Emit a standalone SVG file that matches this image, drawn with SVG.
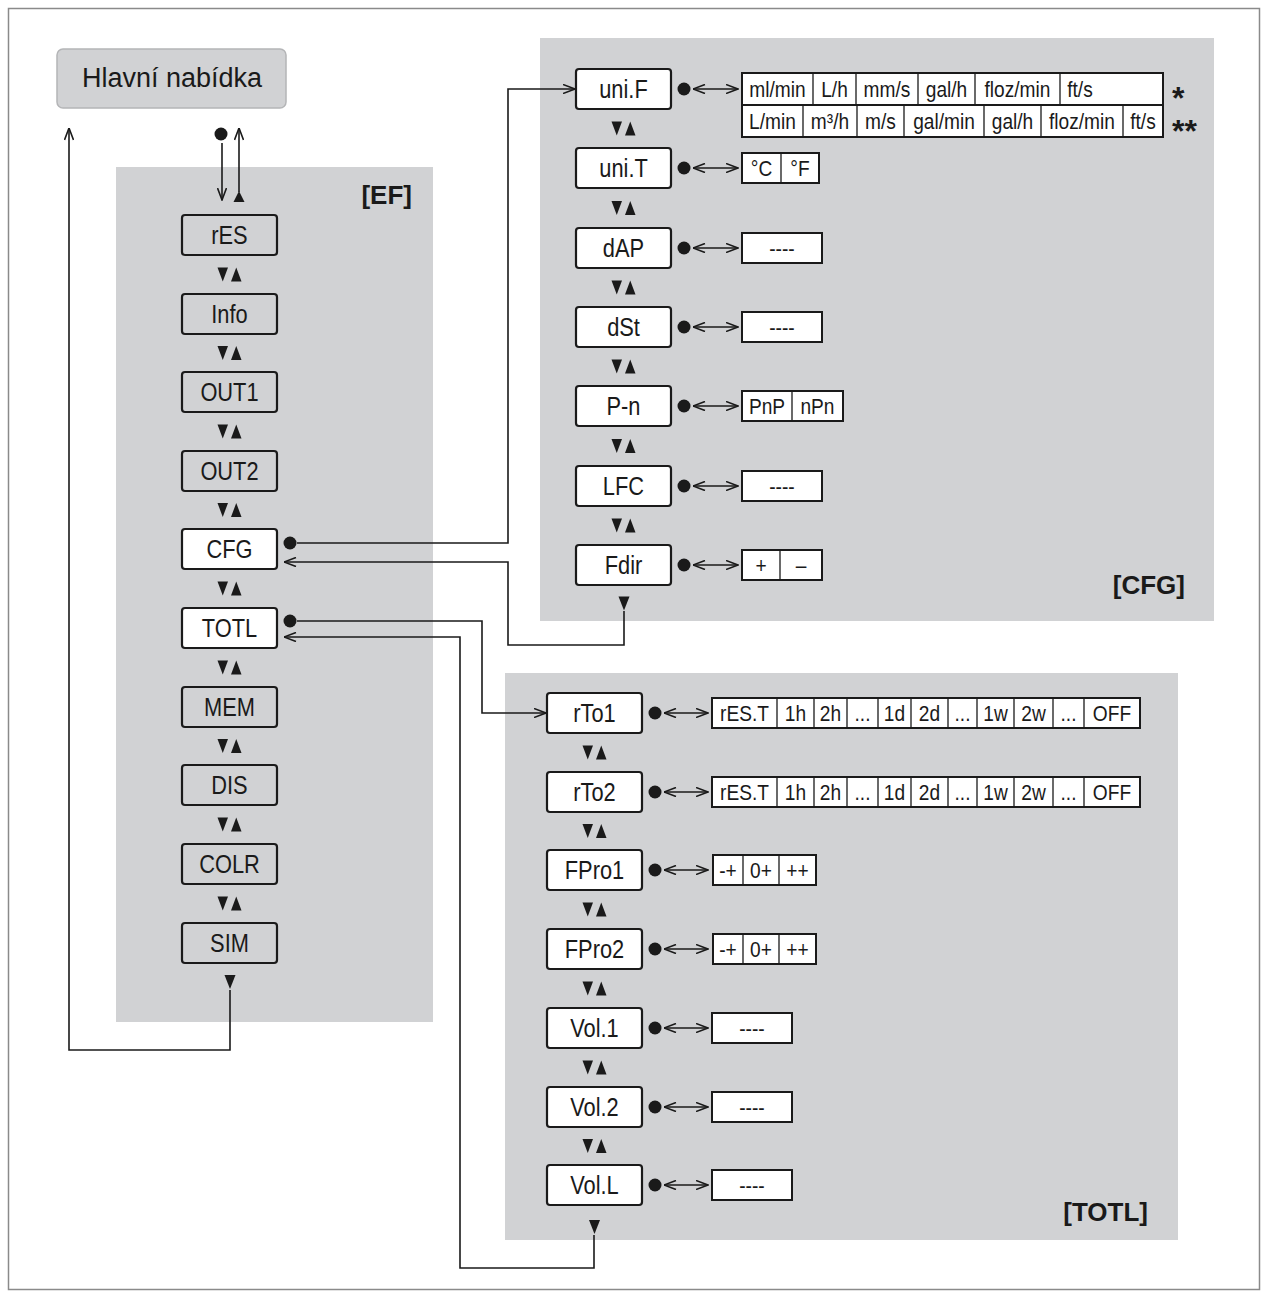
<svg xmlns="http://www.w3.org/2000/svg" xmlns:xlink="http://www.w3.org/1999/xlink" width="1268" height="1298" viewBox="0 0 1268 1298">
<style>
.pnl{fill:#d1d2d4}
.nd rect{fill:#d1d2d4;stroke:#1a1a1a;stroke-width:2.2}
.nd.w rect{fill:#fff}
.nt{font-family:"Liberation Sans",Arial,sans-serif;font-size:26px;text-anchor:middle;fill:#1a1a1a;transform-box:fill-box;transform-origin:center;transform:scaleX(0.84)}
.tb rect{fill:#fff;stroke:#1a1a1a;stroke-width:2}
.tb line{stroke:#1a1a1a;stroke-width:1.3}
.tt{font-family:"Liberation Sans",Arial,sans-serif;font-size:22px;text-anchor:middle;fill:#1a1a1a;transform-box:fill-box;transform-origin:center;transform:scaleX(0.87)}
.lb{font-family:"Liberation Sans",Arial,sans-serif;font-size:26px;font-weight:bold;text-anchor:end;fill:#1a1a1a}
.ast{font-family:"Liberation Sans",Arial,sans-serif;font-size:32px;font-weight:bold;fill:#1a1a1a}
.cn path,.cn line{fill:none;stroke:#1a1a1a;stroke-width:1.6}
.dr{stroke:#1a1a1a;stroke-width:1.6;marker-start:url(#oa);marker-end:url(#oa)}
.tri{fill:#1a1a1a}
</style>
<defs>
<marker id="oa" viewBox="0 0 13 10" refX="12.5" refY="5" markerWidth="13" markerHeight="10" markerUnits="userSpaceOnUse" orient="auto-start-reverse">
<path d="M0.5,0.5 L12.5,5 L0.5,9.5" fill="none" stroke="#1a1a1a" stroke-width="1.6"/>
</marker>
<g id="da" class="tri"><polygon points="-12,-7 -1.5,-7 -6.75,7"/><polygon points="1.5,7 12,7 6.75,-7"/></g>
<polygon id="dn" class="tri" points="-5.5,-7 5.5,-7 0,7"/>
</defs>
<rect x="0" y="0" width="1268" height="1298" fill="#fff"/>
<rect x="8.5" y="8.5" width="1251" height="1281" fill="none" stroke="#8a8a8a" stroke-width="1.5"/>

<!-- panels -->
<rect class="pnl" x="116" y="167" width="317" height="855"/>
<rect class="pnl" x="540" y="38" width="674" height="583"/>
<rect class="pnl" x="505" y="673" width="673" height="567"/>

<text class="lb" x="412" y="204">[EF]</text>
<text class="lb" x="1185" y="594">[CFG]</text>
<text class="lb" x="1148" y="1221">[TOTL]</text>

<!-- main menu -->
<g id="hlavni">
<rect x="57" y="49" width="229" height="59" rx="6" fill="#d1d2d4" stroke="#b4b5b7" stroke-width="1.5"/>
<text x="172" y="87" font-family="'Liberation Sans',Arial,sans-serif" font-size="27" text-anchor="middle" fill="#1a1a1a">Hlavní nabídka</text>
</g>

<!-- EF nodes -->
<g id="n-rES" class="nd"><rect x="182" y="215" width="95" height="40" rx="3"/><text class="nt" x="229.5" y="244">rES</text></g>
<g id="n-Info" class="nd"><rect x="182" y="294" width="95" height="40" rx="3"/><text class="nt" x="229.5" y="323">Info</text></g>
<g id="n-OUT1" class="nd"><rect x="182" y="372" width="95" height="40" rx="3"/><text class="nt" x="229.5" y="401">OUT1</text></g>
<g id="n-OUT2" class="nd"><rect x="182" y="451" width="95" height="40" rx="3"/><text class="nt" x="229.5" y="480">OUT2</text></g>
<g id="n-CFG" class="nd w"><rect x="182" y="529" width="95" height="40" rx="3"/><text class="nt" x="229.5" y="558">CFG</text></g>
<g id="n-TOTL" class="nd w"><rect x="182" y="608" width="95" height="40" rx="3"/><text class="nt" x="229.5" y="637">TOTL</text></g>
<g id="n-MEM" class="nd"><rect x="182" y="687" width="95" height="40" rx="3"/><text class="nt" x="229.5" y="716">MEM</text></g>
<g id="n-DIS" class="nd"><rect x="182" y="765" width="95" height="40" rx="3"/><text class="nt" x="229.5" y="794">DIS</text></g>
<g id="n-COLR" class="nd"><rect x="182" y="844" width="95" height="40" rx="3"/><text class="nt" x="229.5" y="873">COLR</text></g>
<g id="n-SIM" class="nd"><rect x="182" y="923" width="95" height="40" rx="3"/><text class="nt" x="229.5" y="952">SIM</text></g>

<!-- CFG nodes -->
<g id="n-uniF" class="nd w"><rect x="576" y="69" width="95" height="40" rx="3"/><text class="nt" x="623.5" y="98">uni.F</text></g>
<g id="n-uniT" class="nd w"><rect x="576" y="148" width="95" height="40" rx="3"/><text class="nt" x="623.5" y="177">uni.T</text></g>
<g id="n-dAP" class="nd w"><rect x="576" y="228" width="95" height="40" rx="3"/><text class="nt" x="623.5" y="257">dAP</text></g>
<g id="n-dSt" class="nd w"><rect x="576" y="307" width="95" height="40" rx="3"/><text class="nt" x="623.5" y="336">dSt</text></g>
<g id="n-Pn" class="nd w"><rect x="576" y="386" width="95" height="40" rx="3"/><text class="nt" x="623.5" y="415">P-n</text></g>
<g id="n-LFC" class="nd w"><rect x="576" y="466" width="95" height="40" rx="3"/><text class="nt" x="623.5" y="495">LFC</text></g>
<g id="n-Fdir" class="nd w"><rect x="576" y="545" width="95" height="40" rx="3"/><text class="nt" x="623.5" y="574">Fdir</text></g>

<!-- TOTL nodes -->
<g id="n-rTo1" class="nd w"><rect x="547" y="693" width="95" height="40" rx="3"/><text class="nt" x="594.5" y="722">rTo1</text></g>
<g id="n-rTo2" class="nd w"><rect x="547" y="772" width="95" height="40" rx="3"/><text class="nt" x="594.5" y="801">rTo2</text></g>
<g id="n-FPro1" class="nd w"><rect x="547" y="850" width="95" height="40" rx="3"/><text class="nt" x="594.5" y="879">FPro1</text></g>
<g id="n-FPro2" class="nd w"><rect x="547" y="929" width="95" height="40" rx="3"/><text class="nt" x="594.5" y="958">FPro2</text></g>
<g id="n-Vol1" class="nd w"><rect x="547" y="1008" width="95" height="40" rx="3"/><text class="nt" x="594.5" y="1037">Vol.1</text></g>
<g id="n-Vol2" class="nd w"><rect x="547" y="1087" width="95" height="40" rx="3"/><text class="nt" x="594.5" y="1116">Vol.2</text></g>
<g id="n-VolL" class="nd w"><rect x="547" y="1165" width="95" height="40" rx="3"/><text class="nt" x="594.5" y="1194">Vol.L</text></g>

<!-- value tables CFG -->
<g id="t-uniF" class="tb">
<rect x="742" y="73" width="421" height="32"/>
<line x1="813" y1="73" x2="813" y2="105"/><line x1="856" y1="73" x2="856" y2="105"/><line x1="918" y1="73" x2="918" y2="105"/><line x1="975" y1="73" x2="975" y2="105"/><line x1="1060" y1="73" x2="1060" y2="105"/>
<text class="tt" x="777.5" y="97">ml/min</text><text class="tt" x="834.5" y="97">L/h</text><text class="tt" x="887" y="97">mm/s</text><text class="tt" x="946.5" y="97">gal/h</text><text class="tt" x="1017.5" y="97">floz/min</text><text class="tt" x="1080" y="97">ft/s</text>
<rect x="742" y="105" width="421" height="32"/>
<line x1="803" y1="105" x2="803" y2="137"/><line x1="857" y1="105" x2="857" y2="137"/><line x1="904" y1="105" x2="904" y2="137"/><line x1="984" y1="105" x2="984" y2="137"/><line x1="1041" y1="105" x2="1041" y2="137"/><line x1="1123" y1="105" x2="1123" y2="137"/>
<text class="tt" x="772.5" y="129">L/min</text><text class="tt" x="830" y="129">m³/h</text><text class="tt" x="880.5" y="129">m/s</text><text class="tt" x="944" y="129">gal/min</text><text class="tt" x="1012.5" y="129">gal/h</text><text class="tt" x="1082" y="129">floz/min</text><text class="tt" x="1143" y="129">ft/s</text>
</g>
<text class="ast" x="1172" y="109">*</text>
<text class="ast" x="1172" y="142">**</text>

<g id="t-uniT" class="tb"><rect x="742" y="153" width="77" height="30"/><line x1="781" y1="153" x2="781" y2="183"/><text class="tt" x="761.5" y="176">°C</text><text class="tt" x="800" y="176">°F</text></g>
<g id="t-dAP" class="tb"><rect x="742" y="233" width="80" height="30"/><text class="tt" x="782" y="256">----</text></g>
<g id="t-dSt" class="tb"><rect x="742" y="312" width="80" height="30"/><text class="tt" x="782" y="335">----</text></g>
<g id="t-Pn" class="tb"><rect x="742" y="391" width="101" height="30"/><line x1="792" y1="391" x2="792" y2="421"/><text class="tt" x="767" y="414">PnP</text><text class="tt" x="817.5" y="414">nPn</text></g>
<g id="t-LFC" class="tb"><rect x="742" y="471" width="80" height="30"/><text class="tt" x="782" y="494">----</text></g>
<g id="t-Fdir" class="tb"><rect x="742" y="550" width="80" height="30"/><line x1="780" y1="550" x2="780" y2="580"/><text class="tt" x="761" y="573">+</text><text class="tt" x="801" y="573">–</text></g>

<!-- value tables TOTL -->
<g id="t-rTo1" class="tb">
<rect x="712" y="698" width="428" height="30"/>
<line x1="777" y1="698" x2="777" y2="728"/><line x1="814" y1="698" x2="814" y2="728"/><line x1="847" y1="698" x2="847" y2="728"/><line x1="878" y1="698" x2="878" y2="728"/><line x1="911" y1="698" x2="911" y2="728"/><line x1="948" y1="698" x2="948" y2="728"/><line x1="977" y1="698" x2="977" y2="728"/><line x1="1014" y1="698" x2="1014" y2="728"/><line x1="1053" y1="698" x2="1053" y2="728"/><line x1="1084" y1="698" x2="1084" y2="728"/>
<text class="tt" x="744.5" y="721">rES.T</text><text class="tt" x="795.5" y="721">1h</text><text class="tt" x="830.5" y="721">2h</text><text class="tt" x="862.5" y="721">...</text><text class="tt" x="894.5" y="721">1d</text><text class="tt" x="929.5" y="721">2d</text><text class="tt" x="962.5" y="721">...</text><text class="tt" x="995.5" y="721">1w</text><text class="tt" x="1033.5" y="721">2w</text><text class="tt" x="1068.5" y="721">...</text><text class="tt" x="1112" y="721">OFF</text>
</g>
<g id="t-rTo2" class="tb">
<rect x="712" y="777" width="428" height="30"/>
<line x1="777" y1="777" x2="777" y2="807"/><line x1="814" y1="777" x2="814" y2="807"/><line x1="847" y1="777" x2="847" y2="807"/><line x1="878" y1="777" x2="878" y2="807"/><line x1="911" y1="777" x2="911" y2="807"/><line x1="948" y1="777" x2="948" y2="807"/><line x1="977" y1="777" x2="977" y2="807"/><line x1="1014" y1="777" x2="1014" y2="807"/><line x1="1053" y1="777" x2="1053" y2="807"/><line x1="1084" y1="777" x2="1084" y2="807"/>
<text class="tt" x="744.5" y="800">rES.T</text><text class="tt" x="795.5" y="800">1h</text><text class="tt" x="830.5" y="800">2h</text><text class="tt" x="862.5" y="800">...</text><text class="tt" x="894.5" y="800">1d</text><text class="tt" x="929.5" y="800">2d</text><text class="tt" x="962.5" y="800">...</text><text class="tt" x="995.5" y="800">1w</text><text class="tt" x="1033.5" y="800">2w</text><text class="tt" x="1068.5" y="800">...</text><text class="tt" x="1112" y="800">OFF</text>
</g>
<g id="t-FPro1" class="tb"><rect x="713" y="855" width="103" height="30"/><line x1="743" y1="855" x2="743" y2="885"/><line x1="779" y1="855" x2="779" y2="885"/><text class="tt" x="728" y="878">-+</text><text class="tt" x="761" y="878">0+</text><text class="tt" x="797.5" y="878">++</text></g>
<g id="t-FPro2" class="tb"><rect x="713" y="934" width="103" height="30"/><line x1="743" y1="934" x2="743" y2="964"/><line x1="779" y1="934" x2="779" y2="964"/><text class="tt" x="728" y="957">-+</text><text class="tt" x="761" y="957">0+</text><text class="tt" x="797.5" y="957">++</text></g>
<g id="t-Vol1" class="tb"><rect x="712" y="1013" width="80" height="30"/><text class="tt" x="752" y="1036">----</text></g>
<g id="t-Vol2" class="tb"><rect x="712" y="1092" width="80" height="30"/><text class="tt" x="752" y="1115">----</text></g>
<g id="t-VolL" class="tb"><rect x="712" y="1170" width="80" height="30"/><text class="tt" x="752" y="1193">----</text></g>

<!-- connectors -->
<g id="connectors" class="cn">
<use href="#da" x="229.5" y="274.5"/><use href="#da" x="229.5" y="353"/><use href="#da" x="229.5" y="431.5"/><use href="#da" x="229.5" y="510"/><use href="#da" x="229.5" y="588.5"/><use href="#da" x="229.5" y="667.5"/><use href="#da" x="229.5" y="746"/><use href="#da" x="229.5" y="824.5"/><use href="#da" x="229.5" y="903.5"/>
<use href="#dn" x="230" y="982"/>
<use href="#da" x="623.5" y="128.5"/><use href="#da" x="623.5" y="208"/><use href="#da" x="623.5" y="287.5"/><use href="#da" x="623.5" y="366.5"/><use href="#da" x="623.5" y="446"/><use href="#da" x="623.5" y="525.5"/>
<use href="#dn" x="624" y="603.5"/>
<use href="#da" x="594.5" y="752.5"/><use href="#da" x="594.5" y="831"/><use href="#da" x="594.5" y="909.5"/><use href="#da" x="594.5" y="988.5"/><use href="#da" x="594.5" y="1067.5"/><use href="#da" x="594.5" y="1146"/>
<use href="#dn" x="594.5" y="1227"/>

<circle cx="221" cy="134" r="6.5" fill="#1a1a1a"/>
<path d="M222,143 V200" marker-end="url(#oa)"/>
<path d="M239,192 V128" marker-end="url(#oa)"/>
<polygon class="tri" points="233.5,202 244.5,202 239,191"/>
<path d="M230,990 V1050 H69 V128" marker-end="url(#oa)"/>

<circle cx="290" cy="543" r="6.5" fill="#1a1a1a"/>
<path d="M297,543 H508 V89 H575" marker-end="url(#oa)"/>
<path d="M624,611 V645 H508 V562 H284" marker-end="url(#oa)"/>
<circle cx="290" cy="621" r="6.5" fill="#1a1a1a"/>
<path d="M297,621 H482 V713 H546" marker-end="url(#oa)"/>
<path d="M594,1235 V1268 H460 V637 H284" marker-end="url(#oa)"/>

<circle cx="684" cy="89" r="6.5" fill="#1a1a1a"/><line class="dr" x1="693" y1="89" x2="738" y2="89"/>
<circle cx="684" cy="168" r="6.5" fill="#1a1a1a"/><line class="dr" x1="693" y1="168" x2="738" y2="168"/>
<circle cx="684" cy="248" r="6.5" fill="#1a1a1a"/><line class="dr" x1="693" y1="248" x2="738" y2="248"/>
<circle cx="684" cy="327" r="6.5" fill="#1a1a1a"/><line class="dr" x1="693" y1="327" x2="738" y2="327"/>
<circle cx="684" cy="406" r="6.5" fill="#1a1a1a"/><line class="dr" x1="693" y1="406" x2="738" y2="406"/>
<circle cx="684" cy="486" r="6.5" fill="#1a1a1a"/><line class="dr" x1="693" y1="486" x2="738" y2="486"/>
<circle cx="684" cy="565" r="6.5" fill="#1a1a1a"/><line class="dr" x1="693" y1="565" x2="738" y2="565"/>
<circle cx="655" cy="713" r="6.5" fill="#1a1a1a"/><line class="dr" x1="664" y1="713" x2="708" y2="713"/>
<circle cx="655" cy="792" r="6.5" fill="#1a1a1a"/><line class="dr" x1="664" y1="792" x2="708" y2="792"/>
<circle cx="655" cy="870" r="6.5" fill="#1a1a1a"/><line class="dr" x1="664" y1="870" x2="708" y2="870"/>
<circle cx="655" cy="949" r="6.5" fill="#1a1a1a"/><line class="dr" x1="664" y1="949" x2="708" y2="949"/>
<circle cx="655" cy="1028" r="6.5" fill="#1a1a1a"/><line class="dr" x1="664" y1="1028" x2="708" y2="1028"/>
<circle cx="655" cy="1107" r="6.5" fill="#1a1a1a"/><line class="dr" x1="664" y1="1107" x2="708" y2="1107"/>
<circle cx="655" cy="1185" r="6.5" fill="#1a1a1a"/><line class="dr" x1="664" y1="1185" x2="708" y2="1185"/>
</g>
</svg>
